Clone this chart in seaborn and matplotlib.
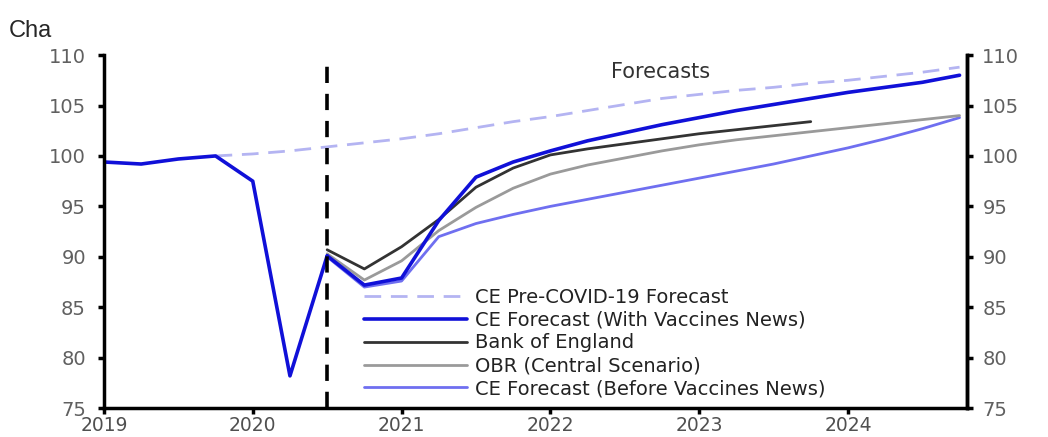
import numpy as np
import pandas as pd
import seaborn as sns
import matplotlib.pyplot as plt

# quarterly data, Q1 plotted at the start of the year
hist_q = [2019.0, 2019.25, 2019.5, 2019.75, 2020.0, 2020.25, 2020.5]
hist_gdp = [99.4, 99.2, 99.7, 100.0, 97.5, 78.2, 90.1]

pre_q = [2019.75, 2020.0, 2020.25, 2020.5, 2020.75, 2021.0, 2021.25, 2021.5, 2021.75,
         2022.0, 2022.25, 2022.5, 2022.75, 2023.0, 2023.25, 2023.5, 2023.75,
         2024.0, 2024.25, 2024.5, 2024.75]
pre_covid = [100.0, 100.2, 100.5, 100.9, 101.3, 101.7, 102.2, 102.8, 103.4,
             103.9, 104.5, 105.1, 105.7, 106.1, 106.5, 106.8, 107.2,
             107.5, 107.9, 108.3, 108.8]

fc_q = [2020.5, 2020.75, 2021.0, 2021.25, 2021.5, 2021.75,
        2022.0, 2022.25, 2022.5, 2022.75, 2023.0, 2023.25, 2023.5, 2023.75,
        2024.0, 2024.25, 2024.5, 2024.75]
ce_vaccine = [90.1, 87.2, 87.9, 93.6, 97.9, 99.4,
              100.5, 101.5, 102.3, 103.1, 103.8, 104.5, 105.1, 105.7,
              106.3, 106.8, 107.3, 108.0]
boe = [90.7, 88.8, 91.0, 93.7, 96.9, 98.8,
       100.1, 100.7, 101.2, 101.7, 102.2, 102.6, 103.0, 103.4]
obr = [90.3, 87.7, 89.6, 92.6, 94.9, 96.8,
       98.2, 99.1, 99.8, 100.5, 101.1, 101.6, 102.0, 102.4,
       102.8, 103.2, 103.6, 104.0]
ce_before = [90.0, 87.0, 87.6, 92.0, 93.3, 94.2,
             95.0, 95.7, 96.4, 97.1, 97.8, 98.5, 99.2, 100.0,
             100.8, 101.7, 102.7, 103.8]

years = [2019, 2020, 2021, 2022, 2023, 2024]
yticks = [75, 80, 85, 90, 95, 100, 105, 110]

sns.set_style("ticks")
plt.rcParams['font.family'] = ['DejaVu Sans']

fig = plt.figure(figsize=(10.48, 4.37), dpi=100)
ax = fig.add_axes([0.0992, 0.066, 0.8235, 0.808])

sns.lineplot(x=pre_q, y=pre_covid, ax=ax, color="#b4b4f2", lw=2,
             linestyle=(0, (6, 3.5)), label="CE Pre-COVID-19 Forecast")
sns.lineplot(x=fc_q, y=ce_before, ax=ax, color="#6f6ff0", lw=2,
             label="CE Forecast (Before Vaccines News)")
sns.lineplot(x=fc_q, y=obr, ax=ax, color="#9a9a9a", lw=2,
             label="OBR (Central Scenario)")
sns.lineplot(x=fc_q[:len(boe)], y=boe, ax=ax, color="#333333", lw=2,
             label="Bank of England")
sns.lineplot(x=fc_q, y=ce_vaccine, ax=ax, color="#1010d8", lw=2.6,
             label="CE Forecast (With Vaccines News)")
sns.lineplot(x=hist_q, y=hist_gdp, ax=ax, color="#1010d8", lw=2.6)

ax.axvline(2020.5, color="black", lw=2.6, linestyle=(0, (4.5, 3)), ymax=0.99)

ax.set_xlim(2019, 2024.8)
ax.set_ylim(75, 110)
ax.set_xticks(years)
ax.set_xticklabels([str(y) for y in years])
ax.set_yticks(yticks)
ax.tick_params(axis="y", labelsize=14, labelcolor="#606060", color="black",
               width=2.5, length=4, pad=9)
ax.tick_params(axis="x", labelsize=13.5, labelcolor="#505050", color="black",
               width=2.5, length=4, pad=2)
for s in ["left", "bottom", "right"]:
    ax.spines[s].set_linewidth(2.5)
    ax.spines[s].set_color("black")
ax.spines["top"].set_visible(False)
ax.spines["right"].set_visible(True)

ax2 = ax.twinx()
ax2.set_ylim(75, 110)
ax2.set_yticks(yticks)
ax2.tick_params(axis="y", labelsize=14, labelcolor="#606060", color="black",
                width=2.5, length=4, pad=7)
ax2.spines["right"].set_linewidth(2.5)
ax2.spines["right"].set_color("black")
ax2.spines["top"].set_visible(False)
ax2.spines["left"].set_visible(False)
ax2.spines["bottom"].set_visible(False)

ax.set_xlabel("")
ax.set_ylabel("")

ax.text(2022.41, 108.3, "Forecasts", fontsize=15, color="#333333", va="center")

# legend in the order of the original
handles, labels = ax.get_legend_handles_labels()
order = ["CE Pre-COVID-19 Forecast", "CE Forecast (With Vaccines News)", "Bank of England",
         "OBR (Central Scenario)", "CE Forecast (Before Vaccines News)"]
h = [handles[labels.index(o)] for o in order]
ax.legend(h, order, loc="lower left", bbox_to_anchor=(0.288, -0.005), frameon=False,
          fontsize=14, handlelength=5.3, handletextpad=0.4, labelspacing=0.2,
          borderaxespad=0.2, labelcolor="#222222")

fig.text(0.008, 0.915, "Cha", fontsize=17, family="Liberation Sans")

fig.savefig("out.png", dpi=100)
